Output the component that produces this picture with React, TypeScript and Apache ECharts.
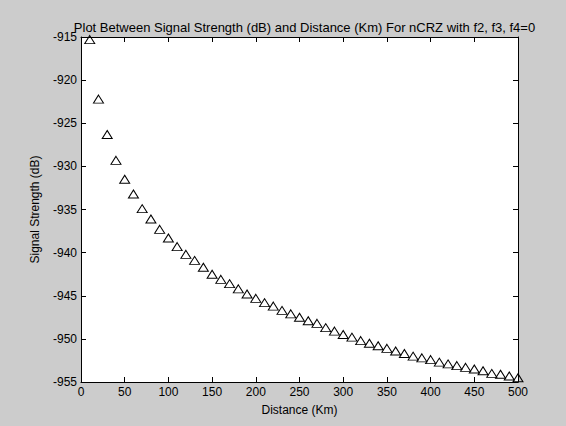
import React, { useEffect, useRef } from "react";
import * as echarts from "echarts";

const titleText = "Plot Between Signal Strength (dB) and Distance (Km) For nCRZ with f2, f3, f4=0";
const xName = "Distance (Km)";
const yName = "Signal Strength (dB)";

const distances = [
  10, 20, 30, 40, 50, 60, 70, 80, 90, 100,
  110, 120, 130, 140, 150, 160, 170, 180, 190, 200,
  210, 220, 230, 240, 250, 260, 270, 280, 290, 300,
  310, 320, 330, 340, 350, 360, 370, 380, 390, 400,
  410, 420, 430, 440, 450, 460, 470, 480, 490, 500,
];

const signal = [
  -915.3, -922.2, -926.3, -929.3, -931.5, -933.2, -934.9, -936.1, -937.3, -938.3,
  -939.3, -940.2, -940.9, -941.7, -942.5, -943.1, -943.6, -944.2, -944.8, -945.3,
  -945.8, -946.2, -946.7, -947.1, -947.5, -947.9, -948.2, -948.7, -949.1, -949.5,
  -949.8, -950.2, -950.5, -950.8, -951.1, -951.4, -951.7, -952.0, -952.2, -952.4,
  -952.7, -952.9, -953.1, -953.3, -953.5, -953.7, -954.0, -954.1, -954.3, -954.5,
];

const xMin = 0, xMax = 500, xStep = 50;
const yMin = -955, yMax = -915, yStep = 5;

const FONT = "Liberation Sans, Arial, sans-serif";

export default function App() {
  const ref = useRef<HTMLDivElement>(null);
  useEffect(() => {
    document.body.style.margin = "0";
    const chart = echarts.init(ref.current!, undefined, { renderer: "svg" });
    const axisLine = { show: true, onZero: false, lineStyle: { color: "#000", width: 1 } };
    const tick = { show: true, inside: true, length: 5, lineStyle: { color: "#000", width: 1 } };
    const label = { color: "#000", fontFamily: FONT, fontSize: 12 };
    chart.setOption({
      animation: false,
      backgroundColor: "#cccccc",
      title: {
        text: titleText,
        left: 299.5,
        textAlign: "center",
        top: 16,
        textStyle: { color: "#000", fontFamily: FONT, fontSize: 13, fontWeight: "normal" },
      },
      grid: { left: 81, right: 48, top: 37, bottom: 44, show: true, backgroundColor: "#fff", borderWidth: 0 },
      xAxis: [
        {
          type: "value", min: xMin, max: xMax, interval: xStep, position: "bottom",
          name: xName, nameLocation: "middle", nameGap: 22,
          nameTextStyle: { color: "#000", fontFamily: FONT, fontSize: 12 },
          axisLine, axisTick: tick, splitLine: { show: false },
          axisLabel: { ...label, margin: 4 },
        },
        {
          type: "value", min: xMin, max: xMax, interval: xStep, position: "top",
          axisLine, axisTick: tick, splitLine: { show: false }, axisLabel: { show: false },
        },
      ],
      yAxis: [
        {
          type: "value", min: yMin, max: yMax, interval: yStep, position: "left",
          name: yName, nameLocation: "middle", nameGap: 40,
          nameTextStyle: { color: "#000", fontFamily: FONT, fontSize: 12 },
          axisLine, axisTick: tick, splitLine: { show: false },
          axisLabel: { ...label, margin: 4 },
        },
        {
          type: "value", min: yMin, max: yMax, interval: yStep, position: "right",
          axisLine, axisTick: tick, splitLine: { show: false }, axisLabel: { show: false },
        },
      ],
      series: [
        {
          type: "scatter",
          data: distances.map((d, i) => [d, signal[i]]),
          symbol: "triangle",
          symbolSize: [10, 8],
          clip: false,
          itemStyle: { color: "rgba(255,255,255,0)", borderColor: "#000", borderWidth: 1, opacity: 1 },
        },
      ],
    });
    return () => chart.dispose();
  }, []);
  return <div ref={ref} style={{ width: 566, height: 426 }} />;
}
